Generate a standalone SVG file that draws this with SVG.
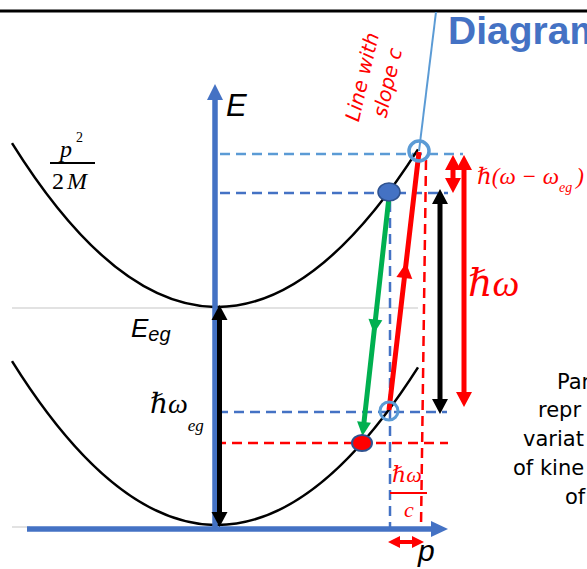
<svg xmlns="http://www.w3.org/2000/svg" width="587" height="569" viewBox="0 0 587 569">
<style>
.curve{fill:none;stroke:#000;stroke-width:2.5}
.dash{fill:none;stroke-width:2.5;stroke-dasharray:10 6}
.db{stroke:#4472C4}
.dl{stroke:#5B9BD5}
.dr{stroke:#FF0000}
.axis{stroke:#4472C4;stroke-width:5.5;fill:none}
.sans{font-family:"Liberation Sans",Arial,sans-serif}
.dv{font-family:"DejaVu Sans",sans-serif}
.math{font-family:"Liberation Serif","DejaVu Serif",serif}
.it{font-style:italic}
.red{fill:#FF0000}
</style>
<defs>
<marker id="hk" markerUnits="userSpaceOnUse" orient="auto-start-reverse" overflow="visible" refX="3" refY="0" markerWidth="16" markerHeight="16"><path d="M0,-8 L15,0 L0,8 Z" fill="#000"/></marker>
<marker id="hr" markerUnits="userSpaceOnUse" orient="auto-start-reverse" overflow="visible" refX="3" refY="0" markerWidth="16" markerHeight="16"><path d="M0,-8 L15,0 L0,8 Z" fill="#FF0000"/></marker>
<marker id="hrs" markerUnits="userSpaceOnUse" orient="auto-start-reverse" overflow="visible" refX="3" refY="0" markerWidth="12" markerHeight="12"><path d="M0,-6 L12,0 L0,6 Z" fill="#FF0000"/></marker>
<marker id="hg" markerUnits="userSpaceOnUse" orient="auto" overflow="visible" refX="3" refY="0" markerWidth="14" markerHeight="14"><path d="M0,-7 L14,0 L0,7 Z" fill="#00B050"/></marker>
</defs>
<rect width="587" height="569" fill="#fff"/>
<line x1="0" y1="11" x2="587" y2="11" stroke="#000" stroke-width="3"/>
<text x="448" y="44" class="sans" font-weight="bold" font-size="39" fill="#4472C4">Diagram</text>

<g id="guides">
<line x1="12" y1="308" x2="418" y2="308" stroke="#D9D9D9" stroke-width="1.5"/>
<line x1="12" y1="527" x2="30" y2="527" stroke="#D9D9D9" stroke-width="1.5"/>
<line class="dash dl" x1="220" y1="154" x2="463" y2="154"/>
<line class="dash db" x1="220" y1="193" x2="448" y2="193"/>
<line class="dash db" x1="218" y1="412" x2="447" y2="412"/>
<line class="dash dr" x1="216" y1="443" x2="448" y2="443"/>
<line class="dash db" x1="390" y1="202" x2="390" y2="527"/>
<line class="dash dr" x1="426" y1="160" x2="421" y2="527"/>
</g>

<g id="curve-excited"><path class="curve" d="M12,143.1 Q215,467.7 418,149.4"/></g>
<g id="curve-ground"><path class="curve" d="M12,361.1 Q215,685.7 418,367.4"/></g>

<g id="axis-E">
<line class="axis" x1="215" y1="529" x2="215" y2="99"/>
<path d="M215,84 L207,100 L223,100 Z" fill="#4472C4"/>
<text x="226" y="116" class="sans it" font-size="31">E</text>
</g>
<g id="axis-p">
<line class="axis" x1="27" y1="529" x2="433" y2="529"/>
<path d="M448,529 L431,521 L431,537 Z" fill="#4472C4"/>
<text x="418" y="561" class="sans it" font-size="30">p</text>
</g>

<g id="slope-line">
<line x1="436" y1="12" x2="419" y2="151" stroke="#5B9BD5" stroke-width="2"/>
<g transform="translate(363,77) rotate(-77)" class="dv it red" font-size="20" text-anchor="middle">
<text x="0" y="6">Line with</text>
<text x="0" y="32">slope c</text>
</g>
</g>

<g id="connectors">
<line x1="219.5" y1="317" x2="219.5" y2="515" stroke="#000" stroke-width="5" marker-start="url(#hk)" marker-end="url(#hk)"/>
<line x1="440" y1="201" x2="440" y2="402" stroke="#000" stroke-width="5" marker-start="url(#hk)" marker-end="url(#hk)"/>
<line x1="464" y1="167" x2="464" y2="395" stroke="#FF0000" stroke-width="5" marker-start="url(#hr)" marker-end="url(#hr)"/>
<line x1="453" y1="167" x2="453" y2="181" stroke="#FF0000" stroke-width="5" marker-start="url(#hr)" marker-end="url(#hr)"/>
<line x1="397" y1="542" x2="415" y2="542" stroke="#FF0000" stroke-width="4" marker-start="url(#hrs)" marker-end="url(#hrs)"/>
<path d="M389,197 L375.1,322.5 L363.7,425" fill="none" stroke="#00B050" stroke-width="5" marker-mid="url(#hg)" marker-end="url(#hg)"/>
<path d="M389,410 L404.7,275 L419,152" fill="none" stroke="#FF0000" stroke-width="5" marker-mid="url(#hr)"/>
</g>

<g id="point-top"><circle cx="419" cy="151" r="10" fill="none" stroke="#5B9BD5" stroke-width="3.5"/></g>
<g id="point-upper"><ellipse cx="389" cy="192" rx="11" ry="9" fill="#4472C4" stroke="#2F528F" stroke-width="1.5"/></g>
<g id="point-lower"><circle cx="389" cy="411" r="9" fill="none" stroke="#5B9BD5" stroke-width="3"/></g>
<g id="point-red"><ellipse cx="362" cy="443" rx="10" ry="8" fill="#FF0000" stroke="#2F528F" stroke-width="2"/></g>

<g id="label-kinetic">
<text x="60" y="157" class="math it" font-size="24">p</text>
<text x="76" y="142" class="math" font-size="14">2</text>
<line x1="50" y1="163" x2="95" y2="163" stroke="#000" stroke-width="2"/>
<text x="52" y="189" class="math" font-size="24">2<tspan class="it" dx="3">M</tspan></text>
</g>
<g id="label-Eeg"><text x="131" y="337" class="sans it" font-size="26">E<tspan font-size="20" dy="4">eg</tspan></text></g>
<g id="label-hweg"><text x="150" y="413" class="math it" font-size="28">ℏω<tspan font-size="17" dy="18">eg</tspan></text></g>
<g id="label-detuning"><text x="477" y="184" class="math it red" font-size="23">ℏ(ω − ω<tspan font-size="14" dy="8">eg</tspan><tspan dy="-8" dx="4">)</tspan></text></g>
<g id="label-hw"><text x="468" y="296" class="math it red" font-size="38">ℏω</text></g>
<g id="label-hwc">
<text x="392" y="482" class="math it red" font-size="22">ℏω</text>
<line x1="390" y1="493" x2="427" y2="493" stroke="#FF0000" stroke-width="2"/>
<text x="404" y="517" class="math it red" font-size="22">c</text>
</g>
<g id="label-note" class="dv" font-size="21">
<text x="557" y="389">Par</text>
<text x="538" y="417">repr</text>
<text x="523" y="446">variat</text>
<text x="513" y="475">of kine</text>
<text x="565" y="504">of</text>
</g>
</svg>
